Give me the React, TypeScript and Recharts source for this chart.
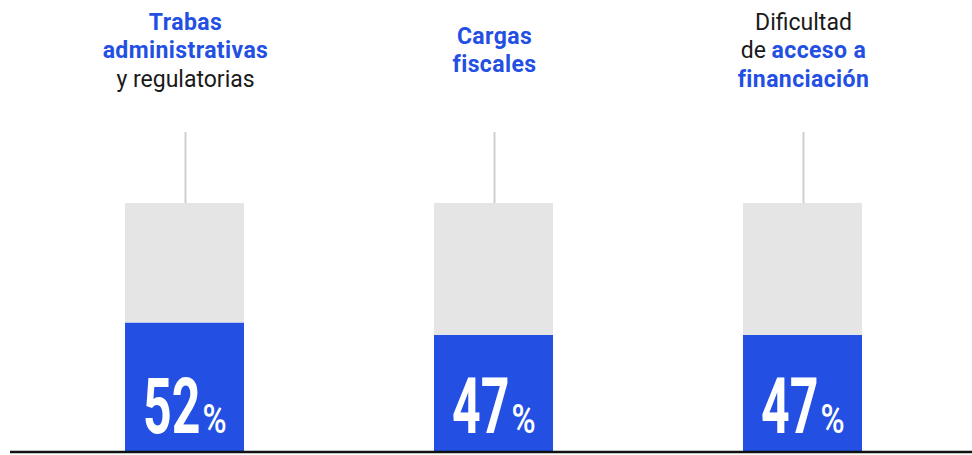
import { BarChart, Bar, XAxis, YAxis, LabelList } from "recharts";

const categories = [
  "Trabas administrativas y regulatorias",
  "Cargas fiscales",
  "Dificultad de acceso a financiación",
];
const shares = [52, 47, 47];

// each title line is a list of [text, highlighted]
const titleLines: [string, boolean][][][] = [
  [[["Trabas", true]], [["administrativas", true]], [["y regulatorias", false]]],
  [[["Cargas", true]], [["fiscales", true]]],
  [[["Dificultad", false]], [["de ", false], ["acceso a", true]], [["financiación", true]]],
];

const BLUE = "#234fe3";
const GREY = "#e5e5e5";

const data = categories.map((name, i) => ({
  name,
  value: shares[i],
  rest: 100 - shares[i],
}));

const Title = (props: any) => {
  const { x, y, width, index } = props;
  const cx = x + width / 2 + 1;
  const lines = titleLines[index];
  const lh = 28.5;
  const first = y - 145 - ((lines.length - 1) / 2) * lh;
  return (
    <g>
      <line x1={cx} x2={cx} y1={y - 71} y2={y} stroke="#cfcfcf" strokeWidth={2} />
      {lines.map((segs, li) => (
        <text
          key={li}
          x={cx}
          y={first + li * lh}
          textAnchor="middle"
          fontFamily="Roboto, 'Liberation Sans', sans-serif"
          fontSize={23}
        >
          {segs.map(([t, hi], si) => (
            <tspan
              key={si}
              fill={hi ? BLUE : "#1a1a1a"}
              fontWeight={hi ? 700 : 400}
              letterSpacing={hi ? 0.4 : 0}
            >
              {t}
            </tspan>
          ))}
        </text>
      ))}
    </g>
  );
};

const Pct = (props: any) => {
  const { x, width, value, y, height } = props;
  const cx = x + width / 2;
  const base = y + height - 19;
  return (
    <g fill="#fff" fontFamily="Roboto, 'DejaVu Sans', sans-serif">
      <text
        transform={`translate(${cx + 16},${base}) scale(0.65,1)`}
        textAnchor="end"
        fontSize={77}
        fontWeight={700}
      >
        {value}
      </text>
      <text
        transform={`translate(${cx + 18},${base}) scale(0.8,1)`}
        textAnchor="start"
        fontSize={41}
        fontWeight={500}
      >
        %
      </text>
    </g>
  );
};

export default function App() {
  return (
    <div style={{ position: "absolute", left: 0, top: 0 }}>
      <BarChart
        width={972}
        height={455}
        data={data}
        margin={{ top: 203, right: 0, bottom: 1, left: 10 }}
        barCategoryGap={0}
      >
        <XAxis
          dataKey="name"
          tick={false}
          tickLine={false}
          height={2}
          axisLine={{ stroke: "#111", strokeWidth: 2.5 }}
          padding={{ left: 20, right: 15 }}
        />
        <YAxis hide domain={[0, 100]} />
        <Bar dataKey="value" stackId="a" fill={BLUE} barSize={119} isAnimationActive={false}>
          <LabelList dataKey="value" content={Pct} />
        </Bar>
        <Bar dataKey="rest" stackId="a" fill={GREY} barSize={119} isAnimationActive={false}>
          <LabelList dataKey="rest" content={Title} />
        </Bar>
      </BarChart>
    </div>
  );
}
